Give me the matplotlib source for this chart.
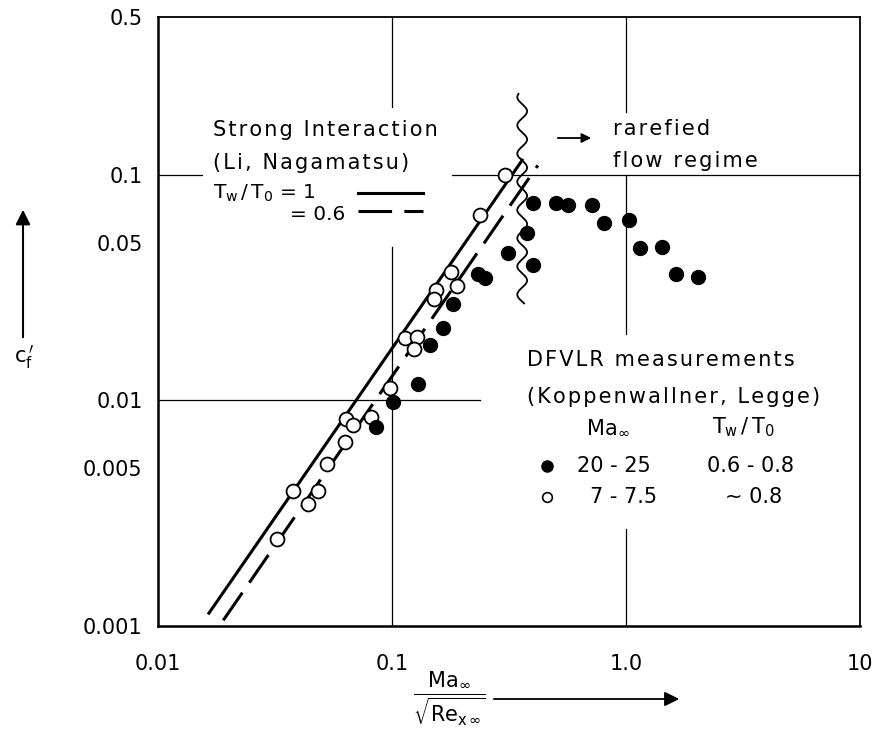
import numpy as np
import matplotlib
matplotlib.use("Agg")
import matplotlib.pyplot as plt
from matplotlib.patches import FancyArrowPatch

plt.rcParams['font.family'] = ['DejaVu Sans']
plt.rcParams['mathtext.fontset'] = 'dejavusans'

# strong interaction theory (Li, Nagamatsu), end points of the straight lines
si_x_tw1 = [0.0165, 0.36]
si_y_tw1 = [0.00114, 0.116]
si_x_tw06 = [0.019, 0.42]
si_y_tw06 = [0.00106, 0.110]

# DFVLR measurements, Ma 7 - 7.5 (open circles)
open_x = [0.0323, 0.0378, 0.0438, 0.0483, 0.0528, 0.0630, 0.0636, 0.0681, 0.0813,
          0.0981, 0.1137, 0.1279, 0.1242, 0.1542, 0.1512, 0.1787, 0.1896, 0.2377, 0.304]
open_y = [0.00242, 0.00398, 0.00346, 0.00398, 0.00524, 0.00656, 0.00829, 0.00779, 0.00846,
          0.01135, 0.01888, 0.01907, 0.01688, 0.0307, 0.02806, 0.0369, 0.0320, 0.0666, 0.100]

# DFVLR measurements, Ma 20 - 25 (filled circles)
full_x = [0.0855, 0.101, 0.1292, 0.1454, 0.1651, 0.1823, 0.233, 0.2497, 0.313, 0.3776,
          0.4005, 0.4005, 0.502, 0.565, 0.716, 0.805, 1.03, 1.148, 1.425, 1.636, 2.03]
full_y = [0.00764, 0.00985, 0.01183, 0.01758, 0.0209, 0.0267, 0.0362, 0.0347, 0.0448, 0.0549,
          0.0400, 0.0752, 0.0752, 0.0737, 0.0737, 0.0614, 0.0627, 0.0471, 0.0476, 0.0362, 0.0351]

yticks = [0.001, 0.005, 0.01, 0.05, 0.1, 0.5]
ytick_labels = ['0.001', '0.005', '0.01', '0.05', '0.1', '0.5']
xticks = [0.01, 0.1, 1.0, 10]
xtick_labels = ['0.01', '0.1', '1.0', '10']

fig = plt.figure(figsize=(8.74, 7.51), dpi=100)
ax = fig.add_axes([0.1808, 0.1664, 0.8032, 0.811])
ax.set_xscale('log')
ax.set_yscale('log')
ax.set_xlim(0.01, 10)
ax.set_ylim(0.001, 0.5)
ax.set_xticks(xticks)
ax.set_xticklabels(xtick_labels)
ax.set_yticks(yticks)
ax.set_yticklabels(ytick_labels)
ax.minorticks_off()
ax.tick_params(length=0, labelsize=15)
ax.tick_params(axis='y', pad=11)
ax.tick_params(axis='x', pad=20)
for s in ax.spines.values():
    s.set_linewidth(1.3)
ax.spines['left'].set_linewidth(1.8)
ax.spines['bottom'].set_linewidth(1.8)

# broken grid lines (left open where text sits)
gk = dict(color='black', lw=0.9, zorder=1)
ax.plot([0.1, 0.1], [0.5, 0.2], **gk)
ax.plot([0.1, 0.1], [0.048, 0.001], **gk)
ax.plot([1.0, 1.0], [0.5, 0.19], **gk)
ax.plot([1.0, 1.0], [0.1, 0.0197], **gk)
ax.plot([1.0, 1.0], [0.0027, 0.001], **gk)
ax.plot([0.01, 0.0154], [0.1, 0.1], **gk)
ax.plot([0.18, 10], [0.1, 0.1], **gk)
ax.plot([0.01, 0.238], [0.01, 0.01], **gk)

# theory lines
ax.plot(si_x_tw1, si_y_tw1, color='black', lw=2.2, zorder=2)
ax.plot(si_x_tw06, si_y_tw06, color='black', lw=2.2, dashes=(11, 4), zorder=2)

# data
ax.plot(open_x, open_y, 'o', ms=10, mfc='white', mec='black', mew=1.3, zorder=4)
ax.plot(full_x, full_y, 'o', ms=10, mfc='black', mec='black', zorder=4)

# wavy boundary of the rarefied flow regime
yy = np.logspace(np.log10(0.0269), np.log10(0.228), 300)
phase = np.log10(yy) / 0.125 * 2 * np.pi
ax.plot(0.36 * 10 ** (0.021 * np.sin(phase)), yy, color='black', lw=1.3, zorder=3)

# texts in figure pixels
W, H = 874.0, 751.0
def ftxt(x, y, s, **kw):
    fig.text(x / W, 1 - y / H, s, va='center', **kw)

def sp(s):
    # the original lettering is widely spaced
    return '\u200a'.join(s)

fs = 15
ftxt(213, 130, sp('Strong Interaction'), fontsize=fs)
ftxt(213, 163, sp('(Li, Nagamatsu)'), fontsize=fs)
ftxt(213, 193, r'$\mathrm{T_w\,/\,T_0}$ = 1', fontsize=14.5)
ftxt(290, 214, '= 0.6', fontsize=14.5)
fig.add_artist(plt.Line2D([358 / W, 423 / W], [1 - 193 / H, 1 - 193 / H], color='black', lw=2.2))
fig.add_artist(plt.Line2D([358 / W, 423 / W], [1 - 211 / H, 1 - 211 / H], color='black', lw=2.2,
                          dashes=(11, 4)))

ftxt(613, 129, sp('rarefied'), fontsize=fs)
ftxt(613, 161, sp('flow regime'), fontsize=fs)
fig.add_artist(FancyArrowPatch((555 / W, 1 - 138 / H), (594 / W, 1 - 138 / H),
               transform=fig.transFigure, arrowstyle='-|>', mutation_scale=14, color='black', lw=1.3))

ftxt(527, 360, sp('DFVLR measurements'), fontsize=fs)
ftxt(527, 397, sp('(Koppenwallner, Legge)'), fontsize=fs)
ftxt(608, 427, r'$\mathrm{Ma_\infty}$', fontsize=fs, ha='center')
ftxt(743, 427, r'$\mathrm{T_w\,/\,T_0}$', fontsize=fs, ha='center')
fig.add_artist(plt.Line2D([547 / W], [1 - 466 / H], marker='o', ms=8, color='black'))
fig.add_artist(plt.Line2D([547 / W], [1 - 497 / H], marker='o', ms=7, mfc='white', mec='black', mew=1.2))
ftxt(577, 466, '20 - 25', fontsize=fs)
ftxt(707, 466, '0.6 - 0.8', fontsize=fs)
ftxt(590, 497, '7 - 7.5', fontsize=fs)
ftxt(725, 497, '~ 0.8', fontsize=fs)

# axis labels with arrows
fig.add_artist(FancyArrowPatch((23 / W, 1 - 340 / H), (23 / W, 1 - 207 / H),
               transform=fig.transFigure, arrowstyle='-|>', mutation_scale=22, color='black', lw=1.5))
ftxt(24, 357, r"$\mathrm{c_f^{\,\prime}}$", fontsize=fs, ha='center')

ftxt(449, 698, r'$\dfrac{\mathrm{Ma_\infty}}{\sqrt{\mathrm{Re_{x\,\infty}}}}$', fontsize=15, ha='center')
fig.add_artist(FancyArrowPatch((491 / W, 1 - 699 / H), (682 / W, 1 - 699 / H),
               transform=fig.transFigure, arrowstyle='-|>', mutation_scale=22, color='black', lw=1.3))

fig.savefig('out.png', dpi=100)
